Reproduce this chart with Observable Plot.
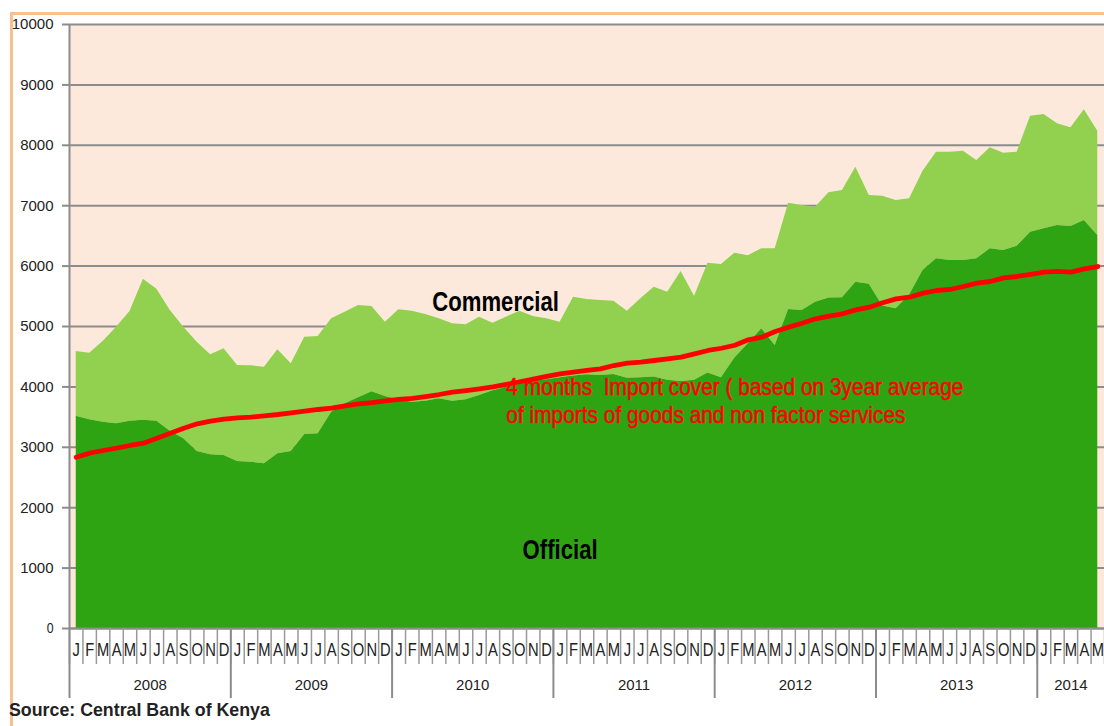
<!DOCTYPE html>
<html><head><meta charset="utf-8">
<script src="https://cdn.jsdelivr.net/npm/d3@7"></script>
<script src="https://cdn.jsdelivr.net/npm/@observablehq/plot@0.6"></script>
<style>
body{margin:0;background:#fff;width:1104px;height:726px;overflow:hidden;position:relative;font-family:"Liberation Sans",Arial,sans-serif}
#frame{position:absolute;left:10px;top:12px;width:1110px;height:730px;border-left:3px solid #F8C08F;border-top:3px solid #F8C08F}
#chart{position:absolute;left:0;top:0}
#source{position:absolute;left:9px;top:700px;font-weight:bold;font-size:17.8px;color:#222;white-space:nowrap}
</style></head><body>
<div id="frame"></div>
<div id="chart"></div>
<div id="source">Source: Central Bank of Kenya</div>
<script>
// Categories
const monthLetters = ["J","F","M","A","M","J","J","A","S","O","N","D"];
const years = [2008, 2009, 2010, 2011, 2012, 2013, 2014];
const monthsIn2014 = 5;
// Total reserves (top of Commercial area), US$ million, Jan 2008 - May 2014
const totalReserves = [4586,4558,4752,4989,5248,5783,5618,5265,4989,4741,4531,4631,
  4354,4349,4327,4614,4382,4823,4834,5127,5237,5348,5331,5071,
  5276,5254,5199,5127,5044,5028,5154,5055,5154,5254,5166,5127,
  5071,5485,5447,5430,5419,5254,5458,5651,5568,5911,5502,6048,
  6026,6214,6170,6286,6286,7042,7003,6975,7213,7252,7638,7169,
  7158,7086,7114,7572,7886,7886,7903,7750,7958,7870,7886,8482,
  8510,8356,8289,8587,8233];
// Official reserves
const official = [3515,3455,3416,3389,3432,3449,3432,3267,3140,2930,2876,2864,
  2765,2753,2727,2892,2930,3212,3223,3582,3720,3819,3919,3841,
  3786,3747,3764,3803,3764,3786,3857,3935,3990,4050,4100,4120,
  4150,4180,4200,4190,4205,4144,4150,4165,4110,4090,4110,4230,
  4150,4480,4713,4962,4685,5281,5265,5400,5472,5475,5734,5700,
  5340,5293,5520,5927,6121,6093,6093,6121,6286,6258,6330,6562,
  6617,6672,6656,6755,6507];
// 4 months import cover
const importCover = [2836,2903,2947,2985,3030,3068,3151,3234,3316,3389,3432,3466,
  3488,3500,3521,3543,3571,3598,3626,3648,3687,3720,3740,3770,
  3795,3810,3841,3874,3913,3940,3968,4000,4040,4085,4130,4175,
  4217,4244,4272,4299,4354,4393,4409,4437,4465,4492,4548,4603,
  4640,4690,4780,4823,4917,4989,5055,5127,5171,5210,5276,5320,
  5392,5458,5485,5552,5596,5613,5662,5717,5745,5806,5828,5861,
  5899,5911,5899,5955,5993];
const yTicks = [0,1000,2000,3000,4000,5000,6000,7000,8000,9000,10000];
const labelCommercial = "Commercial";
const labelOfficial = "Official";
const labelCover = "4 months  Import cover ( based on 3year average\nof imports of goods and non factor services";

// Build table
const monthLabels = [];
years.forEach((y) => {
  const n = (y === 2014) ? monthsIn2014 : 12;
  for (let m = 0; m < n; m++) monthLabels.push(monthLetters[m]);
});
const rows = monthLabels.map((m, i) => ({
  i, month: m, total: totalReserves[i], official: official[i],
  commercial: totalReserves[i] - official[i], cover: importCover[i]
}));
const N = rows.length;
const yearStarts = years.map((y, k) => k * 12 - 0.5);
const yearCenters = years.map((y, k) => {
  const n = (y === 2014) ? monthsIn2014 : 12;
  return k * 12 + (n - 1) / 2;
});

const sans = "'Liberation Sans',Arial,sans-serif";
const gridColor = "#8c8c8c";

const chart = Plot.plot({
  width: 1104,
  height: 700,
  marginLeft: 69,
  marginTop: 24,
  marginBottom: 72,
  marginRight: 0,
  style: {background: "transparent", fontFamily: sans, overflow: "visible"},
  x: {type: "linear", domain: [-0.5, N - 0.5]},
  y: {domain: [0, 10000]},
  marks: [
    Plot.frame({fill: "#FCE9DB", stroke: "none"}),
    Plot.ruleY(yTicks, {stroke: gridColor, strokeWidth: 2}),
    Plot.areaY(rows, {x: "i", y1: "official", y2: "total", fill: "#92D050"}),
    Plot.areaY(rows, {x: "i", y: "official", fill: "#2FA413"}),
    Plot.ruleY([0], {stroke: gridColor, strokeWidth: 2}),
    Plot.ruleX([-0.5], {stroke: gridColor, strokeWidth: 2}),
    Plot.lineY(rows, {x: "i", y: "cover", stroke: "#FF0000", strokeWidth: 4.8}),
    Plot.axisY({ticks: yTicks, tickSize: 7, tickPadding: 9, tickFormat: d => String(d), fontSize: 15, stroke: gridColor, strokeWidth: 2, fill: "#222", label: null}),
    Plot.axisX({ticks: d3.range(-0.5, N, 1), tickSize: 36, tickFormat: () => "", stroke: "#9a9a9a", strokeWidth: 1.5, label: null}),
    Plot.axisX({ticks: yearStarts, tickSize: 70, tickFormat: () => "", stroke: "#8c8c8c", strokeWidth: 2, label: null}),
    Plot.axisX({ticks: d3.range(N), tickSize: 0, tickPadding: 15, tickFormat: i => monthLabels[i], fontSize: 18, fill: "#222", label: null}),
    Plot.axisX({ticks: yearCenters, tickSize: 0, tickPadding: 51, tickFormat: (d, k) => String(years[k]), fontSize: 15, fill: "#222", label: null}),
    Plot.text([labelCommercial], {x: 31.2, y: 5397, text: d => d, fontSize: 27, fontWeight: "bold", fill: "#000"}),
    Plot.text([labelOfficial], {x: 36.0, y: 1291, text: d => d, fontSize: 27, fontWeight: "bold", fill: "#000"}),
    Plot.text([labelCover], {x: 32.0, y: 3783, text: d => d, textAnchor: "start", lineHeight: 1.17, fontSize: 24, fill: "#FF0000", stroke: "#FF0000", strokeWidth: 0.5})
  ]
});
document.getElementById("chart").appendChild(chart);

// Narrow (condensed) rendering of the chart's Arial-Narrow style texts
function squeeze(el, f) {
  const t = el.getAttribute("transform") || "";
  const x = +el.getAttribute("x") || 0, y = +el.getAttribute("y") || 0;
  el.setAttribute("transform", `${t} translate(${x},${y}) scale(${f},1) translate(${-x},${-y})`);
}
const narrowTexts = new Set([labelCommercial, labelOfficial]);
chart.querySelectorAll("text").forEach(el => {
  const s = el.textContent;
  if (s.length === 1 || narrowTexts.has(s)) squeeze(el, 0.82);
  else if (s.startsWith("4 months")) squeeze(el, 0.87);
});
</script>
</body></html>
